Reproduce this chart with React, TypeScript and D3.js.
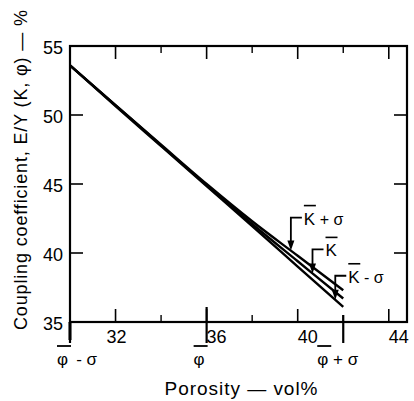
import React, { useEffect } from "react";
import * as d3 from "d3";

// porosity (vol%) where the curves were read
const porosity = [30, 32, 34, 36, 38, 40, 42];
// coupling coefficient E/Y (%) for the three permeability cases
const kPlusSigma = [53.6, 50.72, 47.85, 45.0, 42.3, 39.8, 37.3];
const kMean = [53.6, 50.7, 47.8, 44.92, 42.1, 39.4, 36.7];
const kMinusSigma = [53.6, 50.65, 47.75, 44.85, 41.95, 39.02, 36.1];

const xLabelTicks = [32, 36, 40, 44];
const xMinorTicks = [34, 38, 42];
const yTicks = [35, 40, 45, 50, 55];

const phiMarks = [30, 36, 42];
const phiSuffix = [" - σ", "", " + σ"];

const curveLabels = [" + σ", "", " - σ"];
const curveArrowAt = [39.7, 40.65, 41.65];

const W = 414, H = 401;
const FONT = "'Liberation Sans', Arial, sans-serif";

export default function App() {
  useEffect(() => {
    document.body.style.margin = "0";
  }, []);

  const x = d3.scaleLinear().domain([30, 44.8]).range([70, 407]);
  const y = d3.scaleLinear().domain([35, 55]).range([322, 46]);

  const series = [kPlusSigma, kMean, kMinusSigma];
  const line = d3.line<number>()
    .x((d, i) => x(porosity[i]))
    .y(d => y(d))
    .curve(d3.curveMonotoneX);

  const valueAt = (s: number[], px: number) => {
    const f = d3.scaleLinear().domain(porosity).range(s);
    return f(px);
  };

  const rise = [33, 24, 24];

  return (
    <svg width={W} height={H} style={{ display: "block", background: "#fff" }} fontFamily={FONT}>
      {/* frame */}
      <rect x={x(30)} y={y(55)} width={x(44.8) - x(30)} height={y(35) - y(55)}
        fill="none" stroke="#000" strokeWidth={2.2} />
      {/* left axis extends down to the phi - sigma mark */}
      <line x1={x(30)} x2={x(30)} y1={y(35)} y2={y(35) + 18} stroke="#000" strokeWidth={3} />

      {/* x ticks, bottom and top, inward */}
      {xLabelTicks.map(t => (
        <g key={"xt" + t}>
          <line x1={x(t)} x2={x(t)} y1={y(35)} y2={y(35) - 13} stroke="#000" strokeWidth={1.6} />
          <line x1={x(t)} x2={x(t)} y1={y(55)} y2={y(55) + 13} stroke="#000" strokeWidth={1.6} />
          <text x={x(t) + (t === 32 ? 1 : 10)} y={y(35) + 21} fontSize={18} textAnchor="middle">{t}</text>
        </g>
      ))}
      {xMinorTicks.map(t => (
        <g key={"xm" + t}>
          <line x1={x(t)} x2={x(t)} y1={y(35)} y2={y(35) - 7} stroke="#000" strokeWidth={1.4} />
          <line x1={x(t)} x2={x(t)} y1={y(55)} y2={y(55) + 7} stroke="#000" strokeWidth={1.4} />
        </g>
      ))}

      {/* y ticks, left and right, inward */}
      {yTicks.map(t => (
        <g key={"yt" + t}>
          {t > 35 && t < 55 && (
            <>
              <line x1={x(30)} x2={x(30) + 13} y1={y(t)} y2={y(t)} stroke="#000" strokeWidth={1.6} />
              <line x1={x(44.8)} x2={x(44.8) - 13} y1={y(t)} y2={y(t)} stroke="#000" strokeWidth={1.6} />
            </>
          )}
          <text x={63} y={y(t) + 8} fontSize={18} textAnchor="end">{t}</text>
        </g>
      ))}

      {/* phi markers */}
      {phiMarks.map((p, i) => {
        const px = x(p);
        const top = i === 0 ? y(35) : i === 1 ? y(35) - 15 : y(35) - 7;
        const start = i === 2 ? px - 26 : px - 13;
        return (
          <g key={"phi" + p}>
            <line x1={px} x2={px} y1={top} y2={y(35) + 21} stroke="#000" strokeWidth={2.2} />
            <line x1={start} x2={start + 14} y1={y(35) + 24} y2={y(35) + 24} stroke="#000" strokeWidth={1.8} />
            <text x={start} y={y(35) + 43} fontSize={17}>
              {"φ"}
              <tspan>{phiSuffix[i].replace("-", "\u2009-")}</tspan>
            </text>
          </g>
        );
      })}

      {/* curves */}
      {series.map((s, i) => (
        <path key={"s" + i} d={line(s) || ""} fill="none" stroke="#000" strokeWidth={2.4} />
      ))}

      {/* curve labels with arrows */}
      {series.map((s, i) => {
        const px = x(curveArrowAt[i]);
        const py = y(valueAt(s, curveArrowAt[i]));
        const ey = py - rise[i];
        const tx = px + 13;
        return (
          <g key={"lab" + i}>
            <polyline points={`${px + 11},${ey} ${px},${ey} ${px},${py - 8}`} fill="none" stroke="#000" strokeWidth={1.8} />
            <path d={`M${px - 3.5},${py - 10}L${px + 3.5},${py - 10}L${px},${py}Z`} fill="#000" />
            <line x1={tx} x2={tx + 12} y1={ey - 12} y2={ey - 12} stroke="#000" strokeWidth={1.6} />
            <text x={tx} y={ey + 7} fontSize={17}>
              K<tspan fontSize={16}>{curveLabels[i]}</tspan>
            </text>
          </g>
        );
      })}

      {/* axis titles */}
      <text x={241} y={395} fontSize={19} textAnchor="middle" textLength={153} lengthAdjust="spacing">
        Porosity — vol%
      </text>
      <text x={27} y={170} fontSize={18} textAnchor="middle" transform="rotate(-90,27,170)"
        textLength={320} lengthAdjust="spacing">
        Coupling coefficient, E/Y (K, φ) — %
      </text>
    </svg>
  );
}
